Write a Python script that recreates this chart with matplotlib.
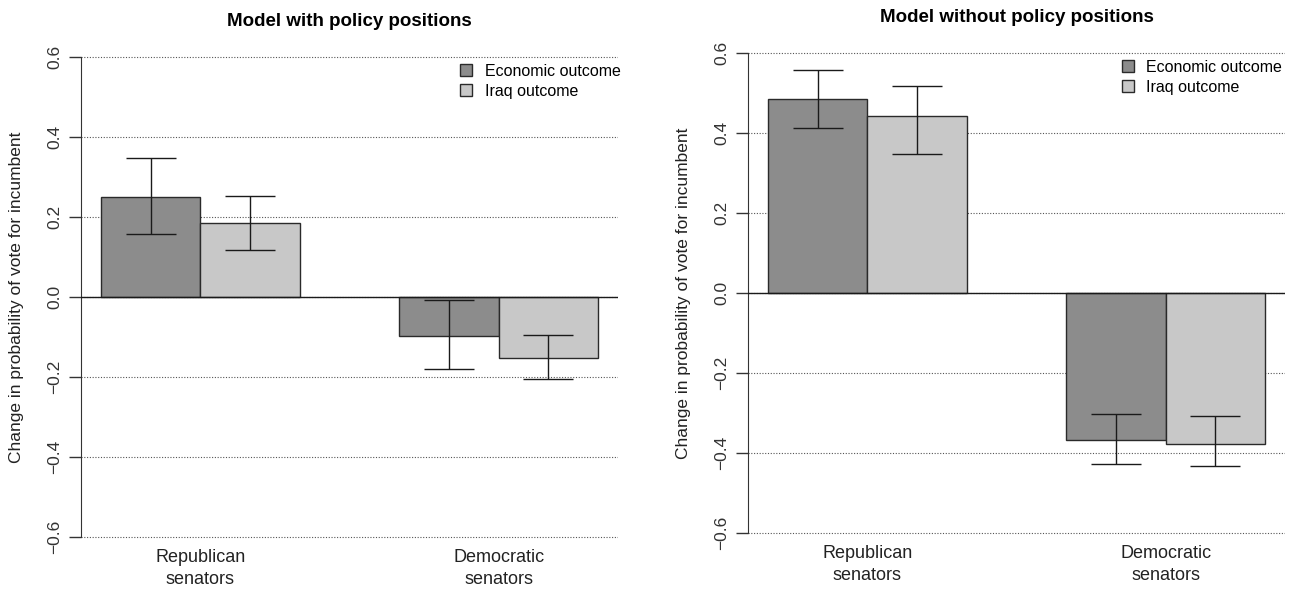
import numpy as np
import matplotlib
import matplotlib.pyplot as plt

matplotlib.use("Agg")
plt.rcParams["font.family"] = ["Liberation Sans", "DejaVu Sans"]

groups = ["Republican\nsenators", "Democratic\nsenators"]
series = ["Economic outcome", "Iraq outcome"]
colors = ["#8c8c8c", "#c8c8c8"]

# model with policy positions: estimate, lower, upper per series
with_est = {"Economic outcome": [0.25, -0.097], "Iraq outcome": [0.185, -0.153]}
with_lo = {"Economic outcome": [0.157, -0.179], "Iraq outcome": [0.118, -0.206]}
with_hi = {"Economic outcome": [0.348, -0.008], "Iraq outcome": [0.253, -0.096]}

# model without policy positions
without_est = {"Economic outcome": [0.485, -0.367], "Iraq outcome": [0.443, -0.379]}
without_lo = {"Economic outcome": [0.414, -0.427], "Iraq outcome": [0.348, -0.432]}
without_hi = {"Economic outcome": [0.557, -0.303], "Iraq outcome": [0.518, -0.307]}

yticks = [-0.6, -0.4, -0.2, 0.0, 0.2, 0.4, 0.6]
ytick_labels = ["\u22120.6", "\u22120.4", "\u22120.2", "0.0", "0.2", "0.4", "0.6"]


def draw_panel(ax, est, lo, hi, title, legend_anchor):
    # grouped bars like R's barplot(beside=TRUE): width 1, one unit between groups
    centers = np.array([1.0, 4.0])
    for j, name in enumerate(series):
        x = centers + 0.5 + j
        e = np.array(est[name])
        ax.bar(x, e, width=1.0, color=colors[j], edgecolor="#2a2a2a",
               linewidth=1.0, label=name, zorder=3)
        yerr = np.vstack([e - np.array(lo[name]), np.array(hi[name]) - e])
        ax.errorbar(x, e, yerr=yerr, fmt="none", ecolor="#1a1a1a",
                    elinewidth=1.0, capsize=18, capthick=1.0, zorder=4)

    for t in yticks:
        ax.axhline(t, color="#555555", linestyle=(0, (1, 1.5)), linewidth=0.8,
                   zorder=1)
    ax.axhline(0, color="#1a1a1a", linewidth=1.0, zorder=5)

    ax.set_xlim(0.8, 6.2)
    ax.set_ylim(-0.648, 0.648)
    ax.set_yticks(yticks)
    ax.set_yticklabels(ytick_labels, rotation=90, va="center", fontsize=12.5)
    ax.tick_params(axis="y", length=8.5, width=1.0, color="#333333", pad=5,
                   labelcolor="#333333")
    ax.set_xticks(centers + 1.0)
    ax.set_xticklabels(groups, fontsize=13, color="#222222", linespacing=1.35)
    ax.tick_params(axis="x", length=0, pad=-5)

    for side in ["top", "right", "bottom"]:
        ax.spines[side].set_visible(False)
    ax.spines["left"].set_bounds(-0.6, 0.6)
    ax.spines["left"].set_color("#333333")

    ax.set_ylabel("Change in probability of vote for incumbent", fontsize=12.5,
                  color="#222222", labelpad=17)
    ax.set_title(title, fontsize=13.5, fontweight="bold", pad=9)

    ax.legend(loc="upper right", frameon=False, fontsize=11.5, handlelength=0.75,
              handleheight=0.75, handletextpad=0.8, labelspacing=0.3,
              borderpad=0, borderaxespad=0, bbox_to_anchor=legend_anchor)


fig = plt.figure(figsize=(12.92, 5.9), dpi=100)
ax1 = fig.add_axes([81 / 1292, 1 - 556 / 590, 537 / 1292, 518 / 590])
ax2 = fig.add_axes([748 / 1292, 1 - 552 / 590, 537 / 1292, 518 / 590])

draw_panel(ax1, with_est, with_lo, with_hi, "Model with policy positions",
           (1.005, 0.95))
draw_panel(ax2, without_est, without_lo, without_hi,
           "Model without policy positions", (0.995, 0.95))

fig.savefig("out.png", dpi=100)
